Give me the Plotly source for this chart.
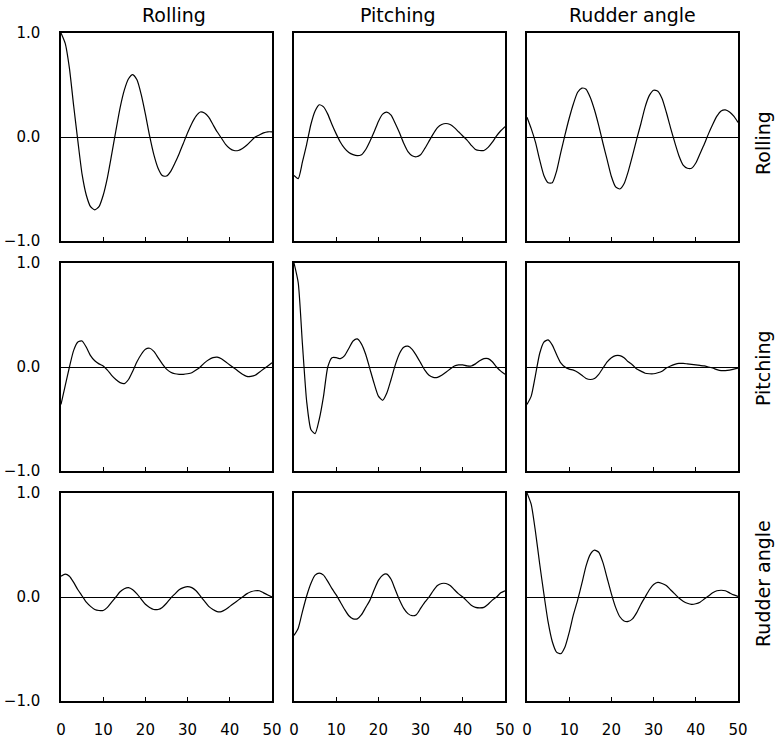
import plotly.graph_objects as go

lags = list(range(51))
names = ["Rolling", "Pitching", "Rudder angle"]
y_ticks = [-1.0, 0.0, 1.0]
y_ticklabels = ["\u22121.0", "0.0", "1.0"]
x_ticks = [0, 10, 20, 30, 40, 50]

roll_roll = [1.00, 0.90, 0.66, 0.30, -0.04, -0.36, -0.56, -0.67, -0.70, -0.67, -0.56, -0.39, -0.17, 0.06, 0.28,
             0.45, 0.56, 0.60, 0.55, 0.41, 0.22, 0.01, -0.17, -0.30, -0.37, -0.375, -0.33, -0.25, -0.16, -0.06,
             0.04, 0.13, 0.20, 0.24, 0.23, 0.19, 0.12, 0.05, -0.01, -0.07, -0.11, -0.13, -0.13, -0.11, -0.08,
             -0.04, 0.00, 0.02, 0.04, 0.05, 0.05]
roll_pitch = [-0.37, -0.40, -0.24, -0.07, 0.12, 0.25, 0.31, 0.29, 0.22, 0.12, 0.03, -0.05, -0.11, -0.15, -0.17,
              -0.18, -0.17, -0.12, -0.04, 0.05, 0.15, 0.22, 0.24, 0.21, 0.13, 0.04, -0.06, -0.14, -0.18, -0.19,
              -0.17, -0.11, -0.04, 0.03, 0.09, 0.12, 0.13, 0.12, 0.09, 0.05, 0.01, -0.03, -0.08, -0.12, -0.13,
              -0.13, -0.10, -0.05, 0.01, 0.06, 0.10]
roll_rudder = [0.19, 0.08, -0.05, -0.22, -0.37, -0.44, -0.44, -0.33, -0.15, 0.02, 0.18, 0.32, 0.43, 0.47, 0.46,
               0.38, 0.26, 0.11, -0.06, -0.22, -0.38, -0.48, -0.50, -0.45, -0.33, -0.18, -0.02, 0.13, 0.29, 0.40,
               0.45, 0.44, 0.37, 0.24, 0.09, -0.05, -0.18, -0.27, -0.30, -0.30, -0.25, -0.16, -0.07, 0.03, 0.12,
               0.20, 0.25, 0.26, 0.24, 0.20, 0.14]
pitch_roll = [-0.36, -0.18, 0.00, 0.16, 0.24, 0.25, 0.19, 0.11, 0.06, 0.03, 0.01, -0.03, -0.08, -0.12, -0.15,
              -0.16, -0.12, -0.04, 0.05, 0.12, 0.17, 0.18, 0.15, 0.09, 0.03, -0.02, -0.05, -0.065, -0.07, -0.07,
              -0.065, -0.055, -0.03, 0.00, 0.04, 0.07, 0.09, 0.095, 0.08, 0.05, 0.02, -0.01, -0.04, -0.07, -0.09,
              -0.09, -0.08, -0.05, -0.02, 0.01, 0.04]
pitch_pitch = [1.00, 0.81, 0.22, -0.33, -0.60, -0.64, -0.50, -0.28, 0.00, 0.09, 0.09, 0.08, 0.11, 0.18, 0.25,
               0.27, 0.22, 0.12, -0.02, -0.16, -0.28, -0.32, -0.25, -0.12, 0.02, 0.13, 0.19, 0.20, 0.17, 0.11,
               0.04, -0.03, -0.08, -0.10, -0.10, -0.08, -0.05, -0.02, 0.01, 0.02, 0.02, 0.01, 0.01, 0.03, 0.06,
               0.08, 0.08, 0.05, 0.00, -0.04, -0.07]
pitch_rudder = [-0.36, -0.28, -0.08, 0.13, 0.24, 0.26, 0.21, 0.12, 0.04, 0.00, -0.02, -0.03, -0.05, -0.08, -0.11,
                -0.12, -0.11, -0.07, -0.01, 0.05, 0.09, 0.11, 0.11, 0.09, 0.05, 0.02, -0.02, -0.04, -0.06, -0.065,
                -0.065, -0.055, -0.04, -0.01, 0.01, 0.025, 0.035, 0.035, 0.03, 0.025, 0.02, 0.015, 0.01, 0.00,
                -0.01, -0.025, -0.035, -0.035, -0.03, -0.02, -0.01]
rudder_roll = [0.20, 0.22, 0.20, 0.14, 0.07, 0.01, -0.05, -0.09, -0.12, -0.13, -0.13, -0.10, -0.05, 0.00, 0.05,
               0.08, 0.09, 0.07, 0.03, -0.02, -0.07, -0.10, -0.12, -0.12, -0.10, -0.06, -0.01, 0.03, 0.07, 0.09,
               0.10, 0.09, 0.06, 0.01, -0.04, -0.09, -0.12, -0.14, -0.14, -0.12, -0.09, -0.06, -0.03, 0.00, 0.03,
               0.05, 0.06, 0.06, 0.04, 0.02, 0.00]
rudder_pitch = [-0.37, -0.30, -0.14, 0.01, 0.13, 0.21, 0.23, 0.21, 0.15, 0.08, 0.02, -0.05, -0.12, -0.18, -0.21,
                -0.21, -0.17, -0.10, -0.03, 0.07, 0.16, 0.21, 0.22, 0.17, 0.07, -0.03, -0.11, -0.16, -0.18, -0.17,
                -0.11, -0.05, 0.00, 0.06, 0.11, 0.13, 0.13, 0.11, 0.07, 0.03, 0.00, -0.04, -0.08, -0.10, -0.105,
                -0.10, -0.07, -0.03, 0.00, 0.04, 0.06]
rudder_rudder = [1.00, 0.89, 0.63, 0.32, 0.03, -0.24, -0.43, -0.53, -0.545, -0.48, -0.34, -0.17, -0.03, 0.13, 0.30,
                 0.41, 0.45, 0.43, 0.33, 0.18, 0.03, -0.10, -0.19, -0.23, -0.235, -0.21, -0.15, -0.07, 0.00, 0.07,
                 0.12, 0.14, 0.13, 0.11, 0.07, 0.03, -0.01, -0.04, -0.06, -0.07, -0.065, -0.05, -0.02, 0.01, 0.04,
                 0.06, 0.065, 0.06, 0.04, 0.02, 0.005]

grid = [[roll_roll, roll_pitch, roll_rudder],
        [pitch_roll, pitch_pitch, pitch_rudder],
        [rudder_roll, rudder_pitch, rudder_rudder]]

W, H = 776, 740
col_px = [(61, 272), (294, 505), (527, 738)]
row_px = [(33, 241), (263, 471), (493, 701)]
col_title_x = [174, 398, 632]
row_title_y = [143, 368, 584]

FONT = "DejaVu Sans"
fig = go.Figure()
layout = {}
k = 0
for r in range(3):
    for c in range(3):
        k += 1
        xa = "x" if k == 1 else f"x{k}"
        ya = "y" if k == 1 else f"y{k}"
        fig.add_trace(go.Scatter(x=lags, y=grid[r][c], mode="lines",
                                 line=dict(color="black", width=1.2, shape="spline", smoothing=0.6),
                                 xaxis=xa, yaxis=ya, showlegend=False, hoverinfo="skip"))
        xkey = "xaxis" if k == 1 else f"xaxis{k}"
        ykey = "yaxis" if k == 1 else f"yaxis{k}"
        x0, x1 = col_px[c]
        y0, y1 = row_px[r]
        layout[xkey] = dict(domain=[x0 / W, x1 / W], range=[0, 50], anchor=ya, automargin=False,
                            showline=True, mirror=True, linecolor="black", linewidth=1.5,
                            showgrid=False, zeroline=False,
                            ticks="inside", ticklen=4, tickcolor="black", tickwidth=1,
                            tickvals=x_ticks, ticktext=[str(v) for v in x_ticks],
                            showticklabels=(r == 2), ticklabelstandoff=14,
                            tickfont=dict(family=FONT, size=15, color="black"))
        layout[ykey] = dict(domain=[1 - y1 / H, 1 - y0 / H], range=[-1, 1], anchor=xa, automargin=False,
                            showline=True, mirror=True, linecolor="black", linewidth=1.5,
                            showgrid=False, zeroline=True, zerolinecolor="black", zerolinewidth=1,
                            ticks="", tickvals=y_ticks, ticktext=y_ticklabels,
                            showticklabels=(c == 0), ticklabelstandoff=16,
                            tickfont=dict(family=FONT, size=15, color="black"))

annotations = []
for c in range(3):
    annotations.append(dict(text=names[c], x=col_title_x[c] / W, y=1 - 15 / H, xref="paper", yref="paper",
                            xanchor="center", yanchor="middle", showarrow=False,
                            font=dict(family=FONT, size=19, color="black")))
for r in range(3):
    annotations.append(dict(text=names[r], x=763 / W, y=1 - row_title_y[r] / H, xref="paper", yref="paper",
                            xanchor="center", yanchor="middle", showarrow=False, textangle=-90,
                            font=dict(family=FONT, size=19, color="black")))

fig.update_layout(**layout)
fig.update_layout(width=W, height=H, margin=dict(l=0, r=0, t=0, b=0, autoexpand=False),
                  paper_bgcolor="white", plot_bgcolor="white", annotations=annotations)
fig.write_html("out.html")
